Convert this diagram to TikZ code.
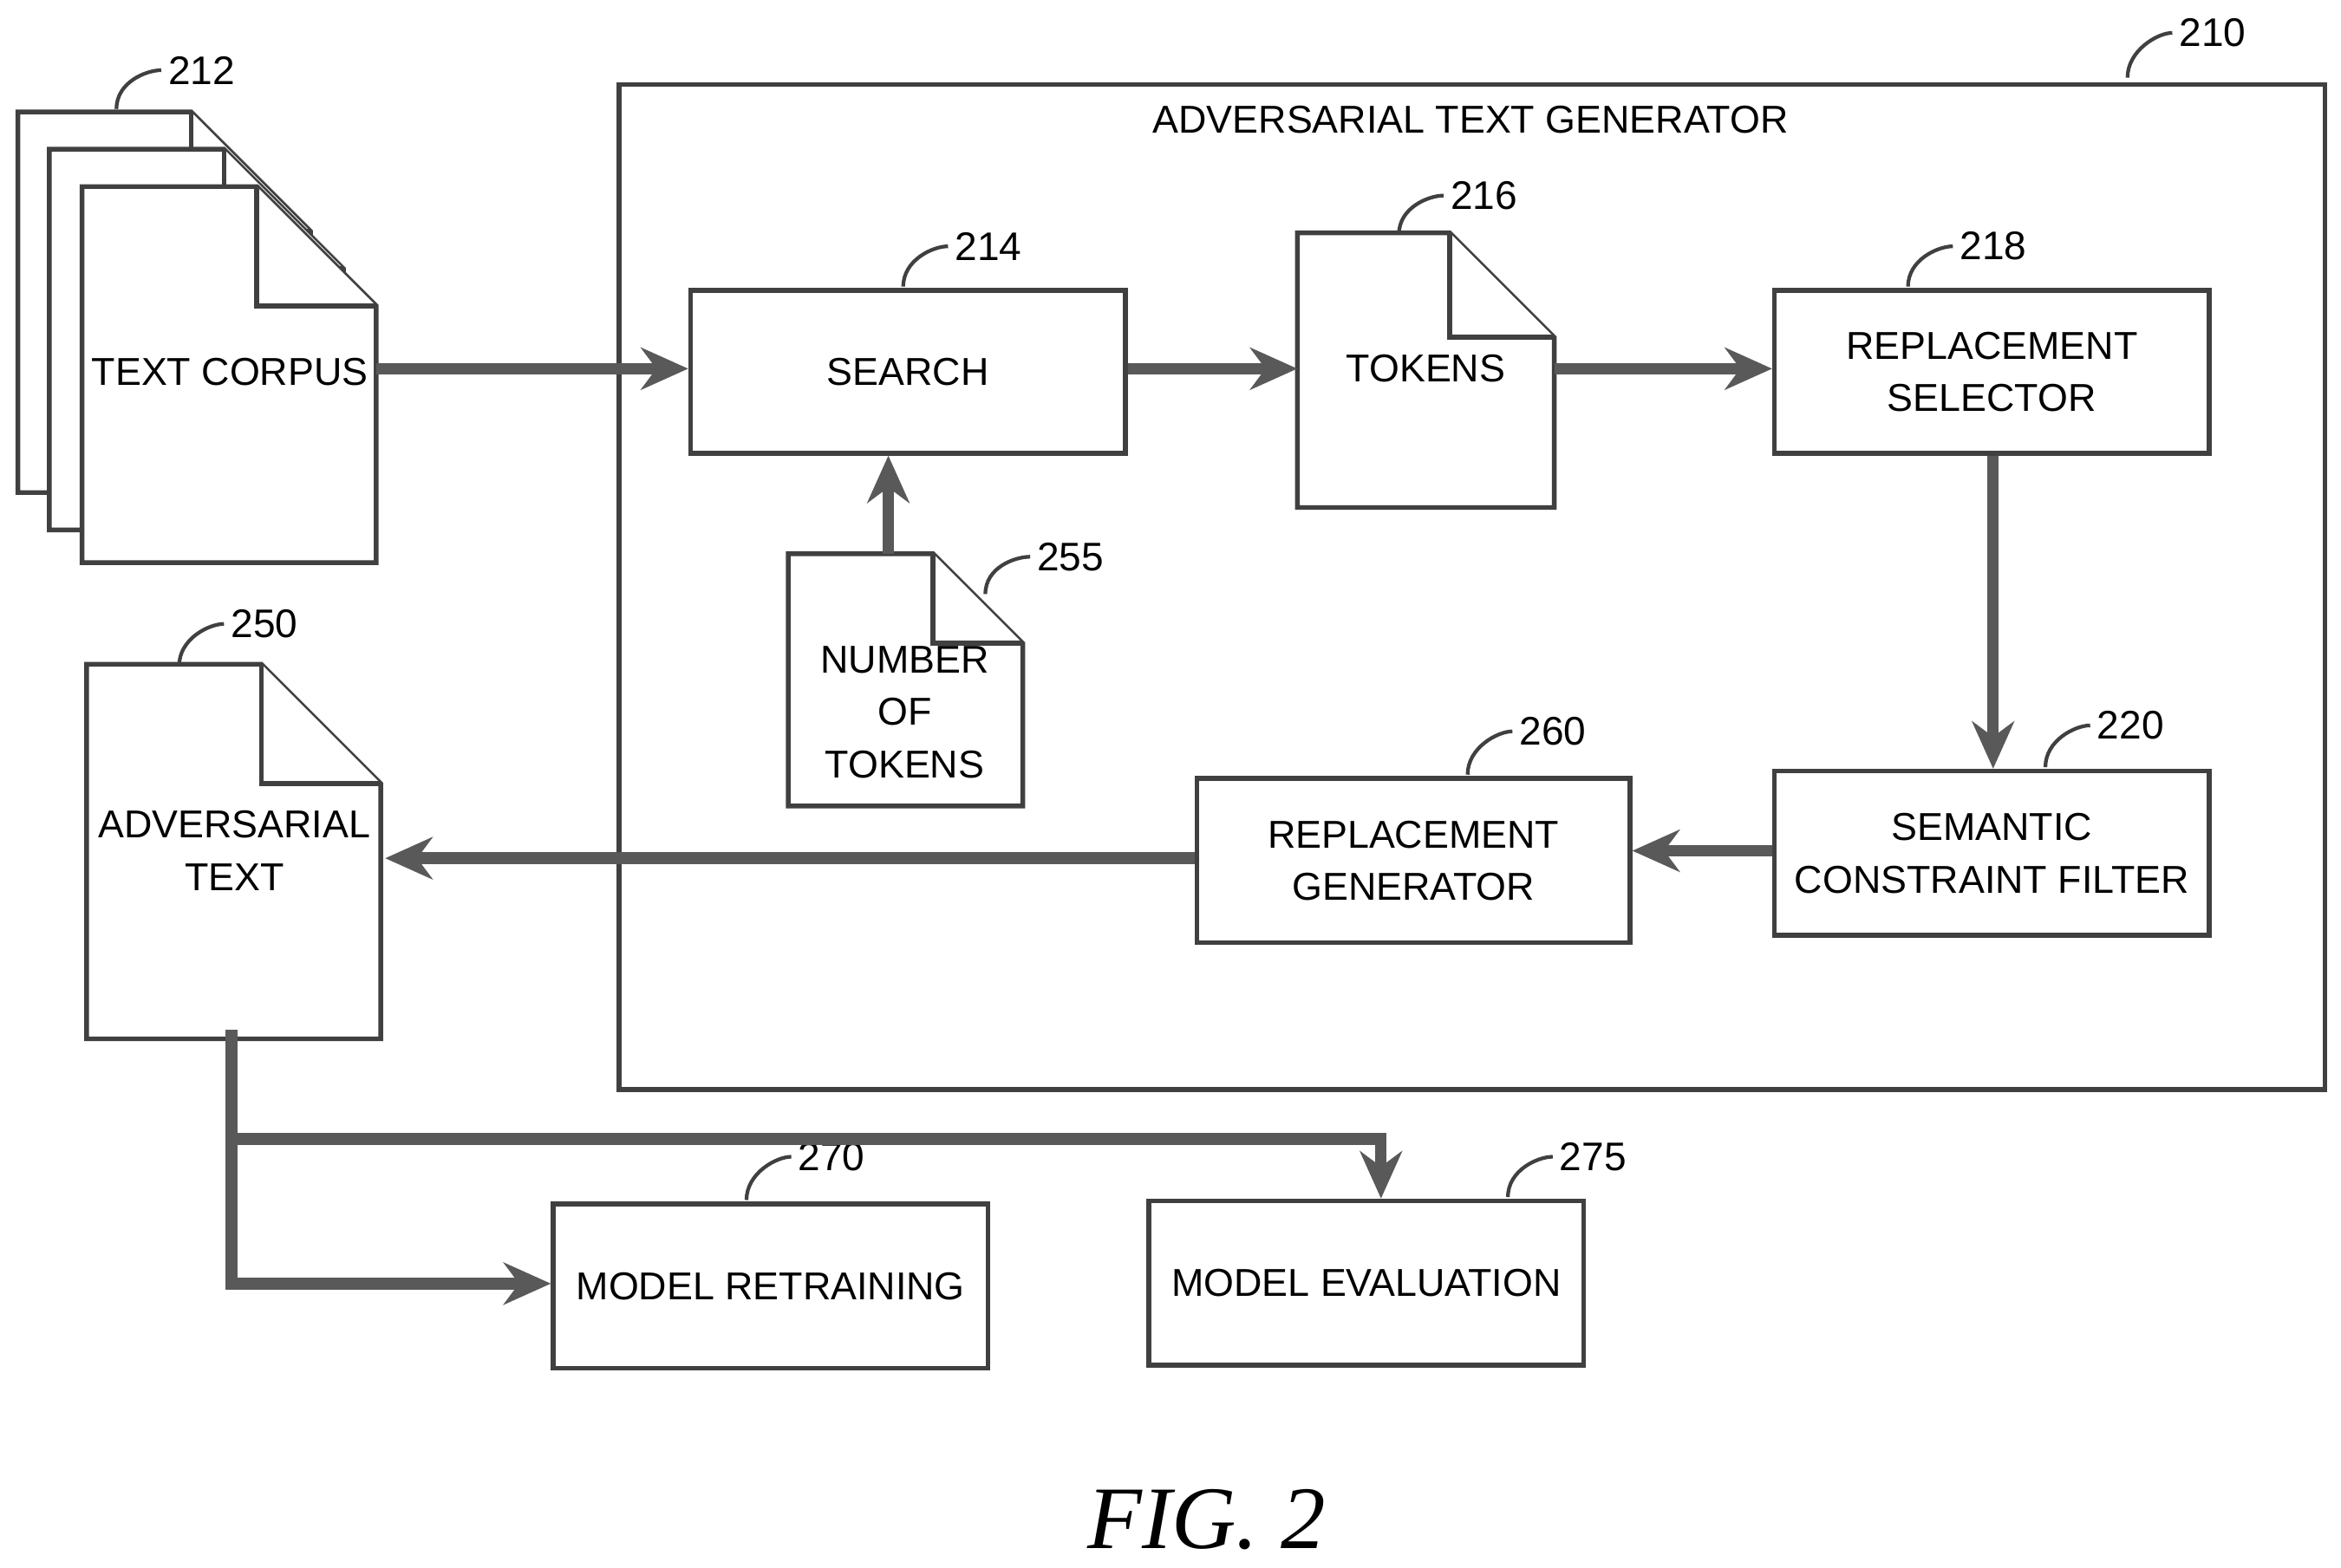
\documentclass[tikz,border=0pt]{standalone}
\usepackage{fontspec}
\setmainfont{Liberation Sans}
\newfontfamily\figfont{Liberation Serif}
\usetikzlibrary{arrows.meta}
\newcommand\docshape[5]{%
 \draw[doc] (#1,#2) -- (#3-#5,#2) -- (#3,#2+#5) -- (#3,#4) -- (#1,#4) -- cycle;
 \draw[doc] (#3-#5,#2) -- (#3-#5,#2+#5) -- (#3,#2+#5);}
\newcommand\leadlbl[3]{%
 \draw[lead] (#1) .. controls +(0,-18) and +(-10,0) .. (#2) node[anchor=west,inner sep=1pt,font=\fontsize{7.6}{10}\selectfont]{#3};}
\begin{document}
\begin{tikzpicture}[x=0.01cm,y=-0.01cm,
 box/.style={draw=black!75,line width=0.9pt,fill=white,anchor=north west,inner sep=0pt},
 doc/.style={draw=black!75,line width=0.9pt,fill=white},
 lbl/.style={align=center,font=\fontsize{7.4}{10}\selectfont},
 arr/.style={draw=black!65,line width=2.2pt,-{Stealth[length=9pt,width=8pt]}},
 lead/.style={draw=black!75,line width=0.7pt}]
\useasboundingbox (0,0) rectangle (1568,1050);
% big box
\node[box,minimum width=11.42cm,minimum height=6.73cm] (gen) at (413,55) {};
\node[lbl] (gent) at (985,80) {ADVERSARIAL TEXT GENERATOR};
\coordinate (l210) at (1425,52); \leadlbl{l210}{1455,22}{210}
% text corpus
\docshape{12}{75}{208}{330}{80}
\docshape{33}{100}{230}{355}{80}
\docshape{55}{125}{252}{377}{80}
\node[lbl] (corpus) at (154,249) {TEXT CORPUS};
\coordinate (corpusE) at (252,247);
\coordinate (l212) at (78,73); \leadlbl{l212}{108,47}{212}
% search
\node[box,minimum width=2.91cm,minimum height=1.09cm] (search) at (461,193) {};
\node[lbl] at (search) {SEARCH};
\coordinate (l214) at (605,192); \leadlbl{l214}{635,165}{214}
% tokens
\docshape{869}{156}{1041}{340}{70}
\node[lbl] (tokens) at (955,247) {TOKENS};
\coordinate (tokW) at (869,247); \coordinate (tokE) at (1041,247);
\coordinate (l216) at (937,157); \leadlbl{l216}{967,131}{216}
% replacement selector
\node[box,minimum width=2.91cm,minimum height=1.09cm] (sel) at (1187,193) {};
\node[lbl] at (sel) {REPLACEMENT\\SELECTOR};
\coordinate (l218) at (1278,192); \leadlbl{l218}{1308,165}{218}
% number of tokens
\docshape{528}{371}{685}{540}{60}
\node[lbl] (num) at (606,477) {NUMBER\\OF\\TOKENS};
\coordinate (numN) at (595,371);
\coordinate (l255) at (660,398); \leadlbl{l255}{690,373}{255}
% semantic constraint filter
\node[box,minimum width=2.91cm,minimum height=1.10cm] (scf) at (1187,515) {};
\node[lbl] at (scf) {SEMANTIC\\CONSTRAINT FILTER};
\coordinate (l220) at (1370,514); \leadlbl{l220}{1400,486}{220}
% replacement generator
\node[box,minimum width=2.90cm,minimum height=1.10cm] (rg) at (800,520) {};
\node[lbl] at (rg) {REPLACEMENT\\GENERATOR};
\coordinate (l260) at (983,519); \leadlbl{l260}{1013,490}{260}
% adversarial text
\docshape{58}{445}{255}{696}{80}
\node[lbl] (adv) at (157,570) {ADVERSARIAL\\TEXT};
\coordinate (advE) at (258,575); \coordinate (advS) at (155,690);
\coordinate (l250) at (120,446); \leadlbl{l250}{150,418}{250}
% model boxes
\node[box,minimum width=2.91cm,minimum height=1.10cm] (mr) at (369,805) {};
\node[lbl] at (mr) {MODEL RETRAINING};
\coordinate (l270) at (500,804); \leadlbl{l270}{530,775}{270}
\node[box,minimum width=2.91cm,minimum height=1.10cm] (me) at (768,803) {};
\node[lbl] at (me) {MODEL EVALUATION};
\coordinate (l275) at (1010,802); \leadlbl{l275}{1040,775}{275}
% arrows
\draw[arr] (corpusE) -- (search.west |- corpusE);
\draw[arr] (search.east |- tokW) -- (tokW);
\draw[arr] (tokE) -- (sel.west |- tokE);
\draw[arr] (sel.south -| 1335,0) -- (scf.north -| 1335,0);
\draw[arr] (scf.west |- 0,570) -- (rg.east |- 0,570);
\draw[arr] (rg.west |- 0,575) -- (advE);
\draw[arr] (numN) -- (search.south -| numN);
\coordinate (br) at (155,763);
\draw[arr] (advS) -- (155,860) -- (mr.west |- 0,860);
\draw[arr] (br) -- (925,763) -- (me.north -| 925,0);
\node[font=\figfont\itshape\fontsize{17}{19}\selectfont] (fig) at (808,1018) {FIG. 2};
\end{tikzpicture}
\end{document}
